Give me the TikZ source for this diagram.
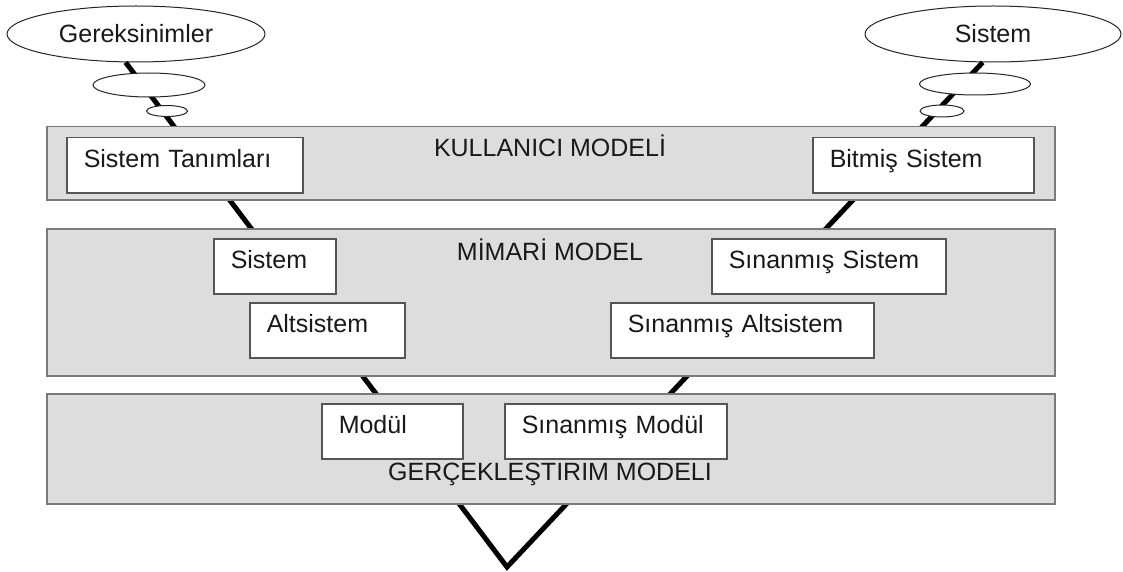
\documentclass[tikz,border=0pt]{standalone}
\usepackage{fontspec}
\setmainfont{Liberation Sans}
\usepackage{tikz}
\usetikzlibrary{shapes.geometric}
\usepackage{xcolor}
\definecolor{bandgray}{HTML}{DDDDDD}
\definecolor{bandedge}{HTML}{7A7A7A}
\definecolor{boxedge}{HTML}{555555}
\tikzset{
    band/.style={
        draw=bandedge,
        fill=bandgray,
        line width=1.5pt,
        inner sep=0pt,
        anchor=north west
    },
    modelbox/.style={
        draw=boxedge,
        fill=white,
        line width=1.5pt,
        anchor=north west,
        align=left,
        inner xsep=17pt,
        inner ysep=12pt,
        text height=18pt,
        text depth=13pt
    },
    bubble/.style={
        draw=black!85,
        fill=white,
        ellipse,
        inner sep=0pt,
        line width=1pt
    },
    bandtitle/.style={
        inner sep=0pt,
        anchor=north,
        text height=18pt
    },
    vline/.style={
        draw=black,
        line width=5pt
    }
}
\tikzset{
  every node/.style={font=\fontsize{25}{30}\selectfont, text=black!90}
}

\begin{document}
\begin{tikzpicture}[x=1pt, y=-1pt]
  \useasboundingbox (0,0) rectangle (1123,572);

  % Start and end of the V
  \node[bubble, minimum width=258pt, minimum height=56pt] (gerek) at (136,34) {Gereksinimler};
  \node[bubble, minimum width=256pt, minimum height=56pt] (sistem) at (993,34) {Sistem};
  \coordinate (tip) at (507,567);

  % The V itself, behind everything
  \draw[vline] (gerek.250) -- (tip) -- (sistem.250);

  % Thought bubbles along the arms
  \node[bubble, minimum width=112pt, minimum height=24pt] (dusun1) at (149,85) {};
  \node[bubble, minimum width=41pt, minimum height=11pt] (nokta1) at (167,111) {};
  \node[bubble, minimum width=111pt, minimum height=22pt] (dusun2) at (975,84) {};
  \node[bubble, minimum width=44pt, minimum height=12pt] (nokta2) at (942,111) {};

  % Model layers
  \node[band, minimum width=1008pt, minimum height=73pt] (kullanici) at (46,126) {};
  \node[band, minimum width=1008pt, minimum height=147pt] (mimari) at (46,228) {};
  \node[band, minimum width=1008pt, minimum height=110pt] (gercek) at (46,393) {};

  \node[bandtitle] (kullbaslik) at (550,138) {KULLANICI MODELİ};
  \node[bandtitle] (mimbaslik) at (550,242) {MİMARİ MODEL};
  \node[bandtitle] (gerbaslik) at (550,462) {GERÇEKLEŞTIRIM MODELI};

  % Boxes inside the layers: x/y/width/name/text
  \foreach \x/\y/\w/\n/\t in {66/137/236/tanim/Sistem Tanımları,
                              812/137/221/bitmis/Bitmiş Sistem,
                              213/238/122/msistem/Sistem,
                              249/302/155/altsis/Altsistem,
                              711/238/234/snsistem/Sınanmış Sistem,
                              610/302/263/snaltsis/Sınanmış Altsistem,
                              321/403/141/modul/Modül,
                              504/403/222/snmodul/Sınanmış Modül} {
    \pgfmathsetmacro{\tw}{\w-34}
    \node[modelbox, text width=\tw pt] (\n) at (\x,\y) {\t};
  }
\end{tikzpicture}
\end{document}
